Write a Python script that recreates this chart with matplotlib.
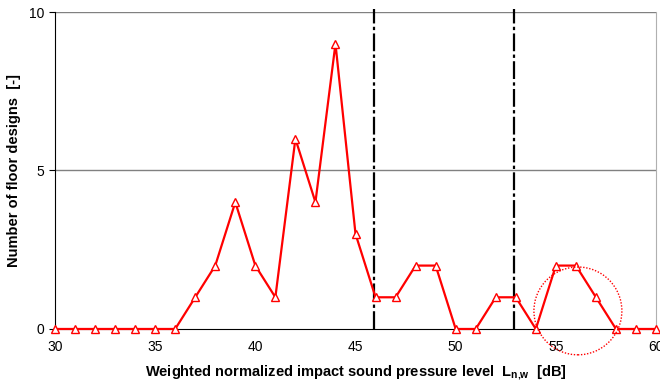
import matplotlib
matplotlib.use("Agg")
import matplotlib.pyplot as plt
from matplotlib.patches import Ellipse

plt.rcParams['font.family'] = ['Liberation Sans', 'DejaVu Sans']
plt.rcParams['mathtext.fontset'] = 'custom'
plt.rcParams['mathtext.bf'] = 'Liberation Sans:bold'

# data
levels = list(range(30, 61))
counts = [0, 0, 0, 0, 0, 0, 0, 1, 2, 4, 2, 1, 6, 4, 9, 3,
          1, 1, 2, 2, 0, 0, 1, 1, 0, 2, 2, 1, 0, 0, 0]
class_limits = [45.9, 52.9]
x_ticks = [30, 35, 40, 45, 50, 55, 60]
y_ticks = [0, 5, 10]

fig = plt.figure(figsize=(6.6, 3.85), dpi=100)
ax = fig.add_axes([0.0833, 0.1455, 0.9107, 0.8233])

for y in [5, 10]:
    ax.axhline(y, color="#808080", lw=1.0, zorder=1)

for xl in class_limits:
    ax.plot([xl, xl], [0, 10.1], color="black", lw=1.6,
            linestyle=(0, (8, 1.5, 1.5, 1.5)), clip_on=False, zorder=2)

ax.plot(levels, counts, color="red", lw=1.6, marker="^", markersize=6,
        markerfacecolor="white", markeredgecolor="red", markeredgewidth=1.0,
        clip_on=False, zorder=3)

circ = Ellipse((56.1, 0.57), 4.39, 2.77, fill=False, edgecolor="red",
               lw=1.0, linestyle=(0, (1, 1.2)), clip_on=False, zorder=4)
ax.add_patch(circ)

ax.set_xlim(30, 60)
ax.set_ylim(0, 10)
ax.set_xticks(x_ticks)
ax.set_yticks(y_ticks)
ax.tick_params(axis="x", length=0, pad=8, labelsize=10)
ax.tick_params(axis="y", length=4, labelsize=10, direction="out")

ax.spines["top"].set_visible(False)
ax.spines["right"].set_color("#b0b0b0")
ax.spines["left"].set_color("black")
ax.spines["bottom"].set_color("black")

ax.set_xlabel("Weighted normalized impact sound pressure level  L$_{\\mathbf{n{,}w}}$  [dB]",
              fontsize=10.5, fontweight="bold", labelpad=7)
ax.set_ylabel("Number of floor designs  [-]", fontsize=10.5, fontweight="bold", labelpad=6)

fig.savefig("out.png", dpi=100)
